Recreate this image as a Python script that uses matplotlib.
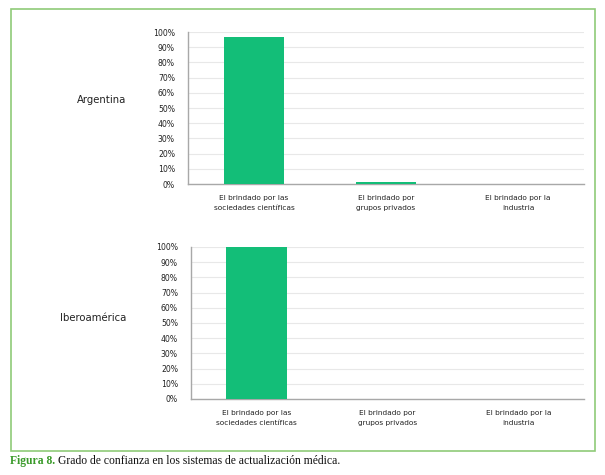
import matplotlib
matplotlib.use("Agg")
import matplotlib.pyplot as plt
from matplotlib.patches import Rectangle
from matplotlib.ticker import FuncFormatter

# ---------------------------------------------------------------------------
categories = ["El brindado por las\nsociedades científicas",
              "El brindado por\ngrupos privados",
              "El brindado por la\nindustria"]
argentina = [97, 1, 0]
iberoamerica = [100, 0, 0]
yticks = list(range(0, 101, 10))

BAR = "#13BE78"
GRID = "#e8e8e8"
SPINE = "#a8a8a8"
W, H = 605, 475

fig = plt.figure(figsize=(6.05, 4.75), dpi=100)
fig.patch.set_facecolor("white")

# green frame round the chart
fig.add_artist(Rectangle((11 / W, 1 - 451 / H), 584 / W, 442 / H,
                         transform=fig.transFigure, fill=False,
                         edgecolor="#8fcb78", linewidth=1.2))


def panel(left, top, bottom, values, label, label_y):
    ax = fig.add_axes([left / W, 1 - bottom / H, (584 - left) / W, (bottom - top) / H])
    x = range(len(categories))
    ax.bar(x, values, width=0.46, color=BAR, zorder=3)
    ax.set_xlim(-0.5, 2.5)
    ax.set_ylim(0, 100)
    ax.set_yticks(yticks)
    ax.yaxis.set_major_formatter(FuncFormatter(lambda v, p: f"{v:.0f}%"))
    ax.set_xticks(list(x))
    ax.set_xticklabels(categories, fontsize=5.3, linespacing=1.75, color="#222222")
    ax.tick_params(axis="y", labelsize=5.6, length=0, pad=9.4, labelcolor="#222222")
    ax.tick_params(axis="x", length=0, pad=8)
    ax.grid(axis="y", color=GRID, linewidth=0.8, zorder=0)
    for s in ("top", "right"):
        ax.spines[s].set_visible(False)
    ax.spines["left"].set_color(SPINE)
    ax.spines["bottom"].set_color(SPINE)
    ax.spines["left"].set_linewidth(1.0)
    ax.spines["bottom"].set_linewidth(1.0)
    fig.text(126 / W, 1 - label_y / H, label, fontsize=7.3,
             ha="right", va="center", color="#222222")
    return ax


panel(188, 32, 184, argentina, "Argentina", 100)
panel(191, 247, 399, iberoamerica, "Iberoamérica", 318)

# caption
t1 = fig.text(10 / W, 1 - 461 / H, "Figura 8.", fontsize=8.4, color="#3a9a2a",
              family="Liberation Serif", weight="bold", va="center")
fig.canvas.draw()
bb = t1.get_window_extent()
fig.text((bb.x1 + 3) / W, 1 - 461 / H,
         "Grado de confianza en los sistemas de actualización médica.",
         fontsize=8.4, color="#111111", family="Liberation Serif", va="center")

fig.savefig("out.png", dpi=100)
